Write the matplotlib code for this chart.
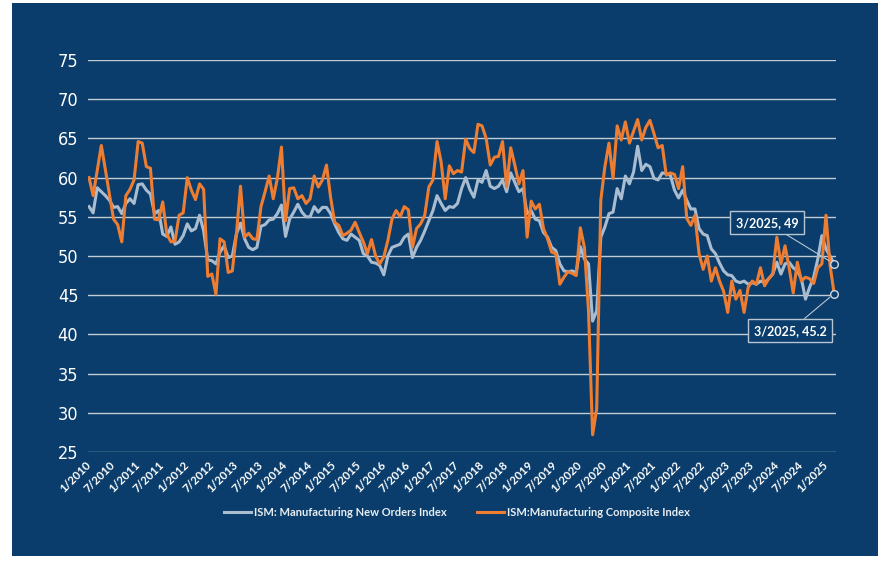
import numpy as np
import matplotlib
matplotlib.use('Agg')
import matplotlib.pyplot as plt
from matplotlib.patches import Rectangle

# monthly readings, 1/2010 .. 3/2025
new_orders = [
    56.3, 55.5, 58.7, 58.2, 57.7, 57.1, 56.2, 56.3, 55.4, 56.7,
    57.3, 56.7, 59.1, 59.2, 58.4, 57.9, 55.4, 55.8, 52.8, 52.5,
    53.7, 51.5, 51.8, 52.6, 54.1, 53.2, 53.5, 55.2, 53.2, 49.5,
    49.4, 49.0, 50.5, 51.3, 49.8, 50.0, 52.8, 54.2, 52.2, 51.1,
    50.8, 51.1, 53.8, 54.0, 54.6, 54.7, 55.4, 56.5, 52.5, 54.7,
    55.6, 56.6, 55.6, 55.0, 55.0, 56.3, 55.6, 56.2, 56.2, 55.4,
    54.1, 53.0, 52.2, 52.0, 52.8, 52.4, 52.0, 50.3, 50.0, 49.2,
    49.1, 48.8, 47.6, 50.0, 51.1, 51.3, 51.5, 52.4, 52.8, 49.8,
    51.1, 52.0, 53.2, 54.5, 55.8, 57.7, 56.7, 55.8, 56.3, 56.2,
    56.7, 58.6, 60.0, 58.5, 57.5, 59.7, 59.4, 60.9, 58.9, 58.6,
    58.9, 59.7, 58.2, 60.6, 59.4, 58.2, 58.6, 55.4, 55.8, 54.7,
    54.5, 53.0, 52.4, 51.1, 50.7, 49.0, 48.1, 48.0, 48.1, 47.9,
    51.2, 49.6, 49.0, 41.7, 43.0, 52.4, 53.7, 55.4, 55.6, 58.6,
    57.3, 60.2, 59.2, 60.7, 64.0, 60.9, 61.7, 61.4, 59.9, 59.7,
    60.6, 60.5, 60.3, 58.4, 57.4, 58.4, 57.1, 56.0, 56.0, 53.5,
    52.8, 52.6, 50.9, 50.3, 49.1, 48.1, 47.6, 47.5, 46.8, 46.6,
    46.8, 46.4, 46.6, 46.4, 46.8, 46.6, 47.1, 47.7, 49.2, 47.7,
    49.0, 49.2, 48.5, 48.1, 47.1, 44.5, 46.0, 47.3, 49.6, 52.6,
    50.9, 50.0, 49.0,
]

composite = [
    60.0, 57.7, 60.9, 64.1, 61.0, 57.8, 54.7, 54.0, 51.8, 57.7,
    58.5, 59.7, 64.6, 64.4, 61.4, 61.2, 54.7, 54.6, 56.9, 52.8,
    51.8, 51.9, 55.2, 55.5, 60.0, 58.4, 57.2, 59.2, 58.5, 47.4,
    47.7, 45.1, 52.2, 51.8, 47.9, 48.1, 52.8, 58.9, 52.4, 52.9,
    52.2, 52.1, 56.3, 58.2, 60.2, 57.3, 59.9, 63.9, 54.5, 58.6,
    58.7, 57.3, 57.7, 56.7, 57.3, 60.2, 58.8, 59.7, 61.6, 57.5,
    54.3, 53.9, 52.6, 52.9, 53.3, 54.3, 53.0, 51.8, 50.3, 52.1,
    50.0, 49.0, 49.9, 52.0, 54.7, 55.8, 55.0, 56.3, 55.9, 51.1,
    53.5, 54.1, 55.2, 58.8, 59.7, 64.6, 62.0, 57.3, 61.5, 60.5,
    60.9, 60.7, 64.9, 63.7, 63.2, 66.8, 66.6, 65.0, 61.6, 62.6,
    62.7, 64.6, 58.8, 63.8, 61.6, 59.2, 60.9, 52.4, 57.0, 56.0,
    56.6, 53.5, 52.2, 50.5, 50.3, 46.4, 47.3, 48.0, 47.8, 47.5,
    53.6, 51.1, 43.0, 27.2, 30.5, 57.1, 61.4, 64.4, 59.9, 66.6,
    64.8, 67.1, 64.4, 65.9, 67.4, 64.8, 66.4, 67.3, 65.6, 63.8,
    64.1, 60.3, 60.6, 60.4, 58.6, 61.4, 54.8, 53.9, 55.2, 50.3,
    48.3, 50.0, 46.8, 48.5, 46.8, 45.5, 42.8, 46.8, 44.5, 45.6,
    42.8, 46.0, 46.8, 46.4, 48.5, 46.2, 47.1, 47.7, 52.4, 49.0,
    51.3, 48.5, 45.3, 49.2, 46.8, 47.3, 47.1, 46.5, 48.5, 49.0,
    55.2, 48.8, 45.2,
]

tick_labels = ['1/2010', '7/2010', '1/2011', '7/2011', '1/2012', '7/2012',
               '1/2013', '7/2013', '1/2014', '7/2014', '1/2015', '7/2015',
               '1/2016', '7/2016', '1/2017', '7/2017', '1/2018', '7/2018',
               '1/2019', '7/2019', '1/2020', '7/2020', '1/2021', '7/2021',
               '1/2022', '7/2022', '1/2023', '7/2023', '1/2024', '7/2024',
               '1/2025']
last_label = '3/2025'
names = ['ISM: Manufacturing New Orders Index', 'ISM:Manufacturing Composite Index']

navy = '#0a3d6b'
grey_line = '#a9bcd0'
orange = '#ee7d31'
grid_col = '#c3ccd6'

W, H = 888, 564
fig = plt.figure(figsize=(W/100, H/100), dpi=100)
fig.patch.set_facecolor('white')
fig.patches.append(Rectangle((12/W, 8/H), 866/W, 553/H, transform=fig.transFigure,
                             facecolor=navy, edgecolor='none', zorder=-10))

ax = fig.add_axes([88/W, 112/H, 748/W, 392/H])
ax.patch.set_alpha(0)
x = np.arange(len(new_orders))

l1, = ax.plot(x, new_orders, color=grey_line, lw=2.2, solid_joinstyle='round', zorder=3)
l2, = ax.plot(x, composite, color=orange, lw=2.2, solid_joinstyle='round', zorder=4)

ax.set_ylim(25, 75)
ax.set_yticks(np.arange(25, 76, 5))
ax.set_xlim(-0.25, x[-1] + 0.45)
ax.yaxis.grid(True, color=grid_col, lw=1.0)
ax.set_axisbelow(True)
for s in ax.spines.values():
    s.set_visible(False)

ax.set_xticks(x[::6])
ax.set_xticklabels(tick_labels, rotation=45, ha='right', va='center',
                   rotation_mode='anchor', color='white', fontsize=8.3,
                   fontweight='bold', family=['Lato', 'DejaVu Sans'])
ax.tick_params(axis='x', length=0, pad=8)
for t in ax.get_xticklabels():
    t.set_x(t.get_position()[0])
ax.tick_params(axis='y', length=0, pad=7, labelcolor='white', labelsize=13)
for t in ax.get_yticklabels():
    t.set_family(['DejaVu Sans', 'Liberation Sans'])
    t.set_fontstretch('condensed')

# end points and call-outs
box = dict(boxstyle='square,pad=0.45', fc=navy, ec='#b8c4d0', lw=1)
arrow = dict(arrowstyle='-', color='#b8c4d0', lw=0.8, shrinkA=0, shrinkB=4)
for series, off in [(new_orders, (-67, 41)), (composite, (-44, -37))]:
    ax.plot(x[-1], series[-1], 'o', ms=5.5, mfc=navy, mec='#d0d8e0', mew=1,
            zorder=6, clip_on=False)
    ax.annotate(f'{last_label}, {series[-1]:g}', xy=(x[-1], series[-1]),
                xytext=off, textcoords='offset pixels', ha='center', va='center',
                color='white', fontsize=9, fontweight='bold',
                family=['Lato', 'DejaVu Sans'], bbox=box, arrowprops=arrow, zorder=7)

fig.legend([l1, l2], names, loc='center', bbox_to_anchor=(457/W, 1 - 512/H),
           ncol=2, frameon=False, labelcolor='#e8edf2',
           prop=dict(family=['Lato', 'DejaVu Sans'], weight='bold', size=8),
           handlelength=2.4, handletextpad=0.25, columnspacing=2.8)

fig.savefig('out.png', dpi=100, facecolor='white')
